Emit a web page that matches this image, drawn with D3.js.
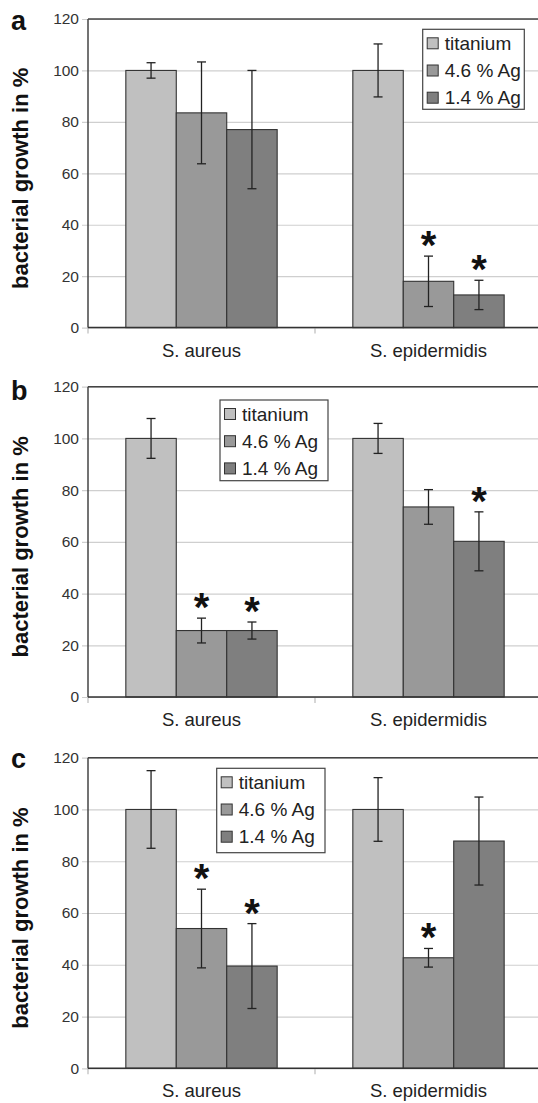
<!DOCTYPE html>
<html><head><meta charset="utf-8">
<script src="https://cdn.jsdelivr.net/npm/d3@7"></script>
<style>body{margin:0;background:#fff;} svg{display:block;font-family:"Liberation Sans",Arial,sans-serif;}</style>
</head><body>
<svg id="chart" width="538" height="1103"></svg>
<script>
const categories = ["S. aureus", "S. epidermidis"];
const seriesNames = ["titanium", "4.6 % Ag", "1.4 % Ag"];
const yTicks = [0, 20, 40, 60, 80, 100, 120];
const panelLetters = ["a", "b", "c"];

// panel a
const aTitanium = [100, 100], aTitaniumErr = [3, 10.3];
const aAg46 = [83.5, 18], aAg46Err = [19.8, 9.8];
const aAg14 = [77, 12.7], aAg14Err = [23, 5.7];
const aStars = [[false, false, false], [false, true, true]];
// panel b
const bTitanium = [100, 100], bTitaniumErr = [7.7, 5.8];
const bAg46 = [25.7, 73.5], bAg46Err = [4.8, 6.7];
const bAg14 = [25.7, 60.2], bAg14Err = [3.3, 11.4];
const bStars = [[false, true, true], [false, false, true]];
// panel c
const cTitanium = [100, 100], cTitaniumErr = [15, 12.3];
const cAg46 = [54, 42.7], cAg46Err = [15.2, 3.6];
const cAg14 = [39.5, 87.8], cAg14Err = [16.4, 17];
const cStars = [[false, true, true], [false, true, false]];

const colors = ["#c0c0c0", "#999999", "#7f7f7f"];

const panels = [
  {letter: panelLetters[0], vals: [aTitanium, aAg46, aAg14], errs: [aTitaniumErr, aAg46Err, aAg14Err], stars: aStars,
   top: 19, bottom: 327.6, legend: {x: 422.7, y: 29.3, w: 101.6, h: 80}, letterY: 30},
  {letter: panelLetters[1], vals: [bTitanium, bAg46, bAg14], errs: [bTitaniumErr, bAg46Err, bAg14Err], stars: bStars,
   top: 386.7, bottom: 697, legend: {x: 220, y: 400, w: 108, h: 80.7}, letterY: 400},
  {letter: panelLetters[2], vals: [cTitanium, cAg46, cAg14], errs: [cTitaniumErr, cAg46Err, cAg14Err], stars: cStars,
   top: 757.7, bottom: 1068.3, legend: {x: 216.7, y: 768.3, w: 108.3, h: 84.4}, letterY: 768}
];

const svg = d3.select("#chart");
const left = 88, right = 542;

panels.forEach(p => {
  const g = svg.append("g");
  const y = d3.scaleLinear().domain([0, 120]).range([p.bottom, p.top]);
  const x0 = d3.scaleBand().domain(categories).range([left, right]).paddingInner(0).paddingOuter(0);
  const bw = x0.bandwidth();
  const x1 = d3.scaleBand().domain(seriesNames).range([bw / 6, bw * 5 / 6]).padding(0);

  // gridlines + ticks
  const yAxis = d3.axisLeft(y).tickValues(yTicks).tickSize(-(right - left)).tickPadding(9);
  const ag = g.append("g").attr("transform", `translate(${left},0)`).call(yAxis);
  ag.select(".domain").remove();
  ag.selectAll(".tick line").attr("stroke", "#cfcfcf").attr("stroke-width", 1.2).attr("x1", -6);
  ag.selectAll(".tick text").attr("fill", "#333").style("font-size", "15.5px").style("font-family", "Liberation Sans, Arial, sans-serif");

  // top border
  g.append("line").attr("x1", left).attr("x2", right).attr("y1", p.top).attr("y2", p.top)
    .attr("stroke", "#444").attr("stroke-width", 1.5);
  // bottom category ticks
  const catTicks = [left, left + bw, right];
  g.selectAll(".ct").data(catTicks).enter().append("line")
    .attr("x1", d => d).attr("x2", d => d).attr("y1", p.bottom).attr("y2", p.bottom + 6)
    .attr("stroke", "#bbb").attr("stroke-width", 1.2);

  // bars
  seriesNames.forEach((s, si) => {
    categories.forEach((c, ci) => {
      const v = p.vals[si][ci];
      const bx = x0(c) + x1(s);
      g.append("rect").attr("x", bx).attr("y", y(v)).attr("width", x1.bandwidth()).attr("height", y(0) - y(v))
        .attr("fill", colors[si]).attr("stroke", "#333").attr("stroke-width", 1.1);
    });
  });
  // error bars & stars
  seriesNames.forEach((s, si) => {
    categories.forEach((c, ci) => {
      const v = p.vals[si][ci], e = p.errs[si][ci];
      const cx = x0(c) + x1(s) + x1.bandwidth() / 2;
      const eg = g.append("g").attr("stroke", "#222").attr("stroke-width", 1.3);
      eg.append("line").attr("x1", cx).attr("x2", cx).attr("y1", y(v + e)).attr("y2", y(v - e));
      eg.append("line").attr("x1", cx - 4.5).attr("x2", cx + 4.5).attr("y1", y(v + e)).attr("y2", y(v + e));
      eg.append("line").attr("x1", cx - 4.5).attr("x2", cx + 4.5).attr("y1", y(v - e)).attr("y2", y(v - e));
      if (p.stars[ci][si]) {
        g.append("text").attr("x", cx).attr("y", y(v + e) + 3).attr("text-anchor", "middle")
          .style("font-size", "40px").style("font-weight", "bold").attr("fill", "#111").text("*");
      }
    });
  });

  // axes lines
  g.append("line").attr("x1", left).attr("x2", left).attr("y1", p.top).attr("y2", p.bottom)
    .attr("stroke", "#444").attr("stroke-width", 1.5);
  g.append("line").attr("x1", left).attr("x2", right).attr("y1", p.bottom).attr("y2", p.bottom)
    .attr("stroke", "#333").attr("stroke-width", 1.5);

  // category labels
  g.selectAll(".cl").data(categories).enter().append("text")
    .attr("x", d => x0(d) + bw / 2).attr("y", p.bottom + 29).attr("text-anchor", "middle")
    .style("font-size", "18.5px").attr("fill", "#222").text(d => d);

  // y label
  g.append("text").attr("transform", `translate(28,${(p.top + p.bottom) / 2 + 5}) rotate(-90)`)
    .attr("text-anchor", "middle").style("font-size", "22px").style("font-weight", "bold").attr("fill", "#111")
    .text("bacterial growth in %");

  // panel letter
  g.append("text").attr("x", 11).attr("y", p.letterY).style("font-size", "27px").style("font-weight", "bold")
    .attr("fill", "#111").text(p.letter);

  // legend
  const L = p.legend;
  const lg = g.append("g");
  lg.append("rect").attr("x", L.x).attr("y", L.y).attr("width", L.w).attr("height", L.h)
    .attr("fill", "#fff").attr("stroke", "#444").attr("stroke-width", 1.2);
  seriesNames.forEach((s, si) => {
    const cy = L.y + 14 + si * 27.2;
    lg.append("rect").attr("x", L.x + 4.5).attr("y", cy - 5.5).attr("width", 11).attr("height", 11)
      .attr("fill", colors[si]).attr("stroke", "#333").attr("stroke-width", 1);
    lg.append("text").attr("x", L.x + 22).attr("y", cy + 6.5).style("font-size", "19px").attr("fill", "#222").text(s);
  });
});
</script>
</body></html>
